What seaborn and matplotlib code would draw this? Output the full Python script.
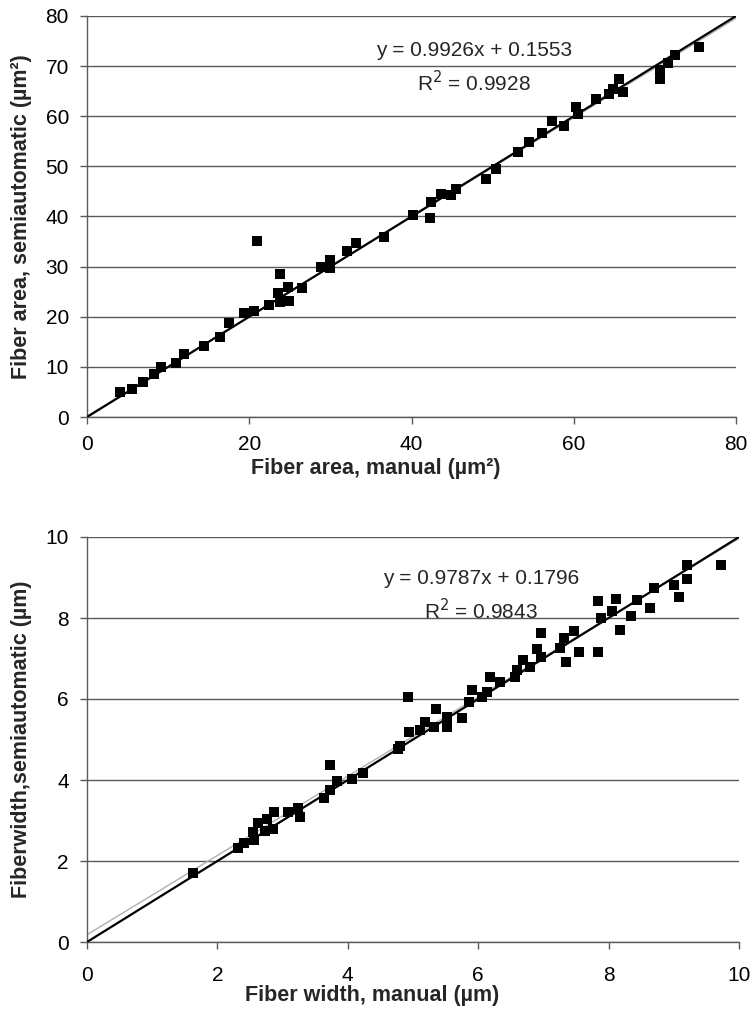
import numpy as np
import matplotlib
matplotlib.use("Agg")
import matplotlib.pyplot as plt
import seaborn as sns

# Datos panel superior: area de fibra (um2)
area_manual = [4.1, 5.6, 6.9, 8.2, 9.1, 11.0, 12.0, 14.4, 16.4, 17.5, 19.3, 20.6, 20.9,
               22.4, 23.5, 23.8, 23.8, 24.8, 24.9, 26.5, 28.9, 30.0, 30.0, 32.1, 33.2,
               36.6, 40.2, 42.3, 42.4, 43.6, 44.9, 45.5, 49.2, 50.4, 53.1, 54.5, 56.1,
               57.3, 58.8, 60.3, 60.5, 62.8, 64.3, 64.8, 65.6, 66.1, 70.6, 70.6, 71.6,
               72.5, 75.5]
area_semi = [5.0, 5.5, 6.9, 8.6, 9.9, 10.7, 12.6, 14.2, 16.0, 18.8, 20.7, 21.1, 35.1,
             22.3, 24.8, 28.6, 22.9, 26.0, 23.1, 25.7, 30.0, 31.3, 29.8, 33.2, 34.8,
             36.0, 40.3, 39.8, 42.8, 44.4, 44.2, 45.4, 47.5, 49.5, 52.9, 54.8, 56.6,
             59.0, 58.1, 61.8, 60.4, 63.4, 64.4, 65.4, 67.4, 64.8, 69.2, 67.4, 70.7,
             72.3, 73.9]
area_fit = (0.9926, 0.1553, 0.9928)

# Datos panel inferior: ancho de fibra (um)
ancho_manual = [1.62, 2.32, 2.41, 2.55, 2.56, 2.62, 2.73, 2.76, 2.86, 2.87, 3.09, 3.23,
                3.27, 3.64, 3.73, 3.73, 3.84, 4.07, 4.24, 4.77, 4.80, 4.93, 4.94, 5.11,
                5.18, 5.32, 5.35, 5.52, 5.52, 5.75, 5.86, 5.91, 6.06, 6.13, 6.18, 6.33,
                6.56, 6.59, 6.69, 6.80, 6.90, 6.96, 6.97, 7.25, 7.31, 7.35, 7.47, 7.54,
                7.83, 7.83, 7.89, 8.05, 8.12, 8.17, 8.34, 8.43, 8.63, 8.69, 9.01, 9.08,
                9.20, 9.21, 9.73]
ancho_semi = [1.71, 2.31, 2.44, 2.71, 2.52, 2.93, 2.75, 3.04, 2.79, 3.21, 3.20, 3.32,
              3.09, 3.56, 4.37, 3.75, 3.98, 4.02, 4.17, 4.76, 4.84, 6.05, 5.19, 5.23,
              5.44, 5.32, 5.75, 5.30, 5.56, 5.52, 5.93, 6.21, 6.04, 6.18, 6.54, 6.43,
              6.55, 6.72, 6.96, 6.78, 7.23, 7.04, 7.64, 7.25, 7.50, 6.91, 7.69, 7.17,
              7.17, 8.43, 7.99, 8.18, 8.46, 7.70, 8.05, 8.44, 8.24, 8.75, 8.81, 8.51,
              8.96, 9.31, 9.31]
ancho_fit = (0.9787, 0.1796, 0.9843)

sns.set_theme(style="white")
plt.rcParams['font.family'] = ['Liberation Sans', 'DejaVu Sans']

fig = plt.figure(figsize=(7.52, 10.13), dpi=100)
ax1 = fig.add_axes([87/752, 1-417/1013, 649/752, 401/1013])
ax2 = fig.add_axes([87/752, 1-942/1013, 652/752, 405/1013])

paneles = [
    (ax1, area_manual, area_semi, area_fit, 80, 10, 20,
     "Fiber area, manual (µm²)", "Fiber area, semiautomatic (µm²)",
     (0.445, -0.103), 8, (474, 50)),
    (ax2, ancho_manual, ancho_semi, ancho_fit, 10, 2, 2,
     "Fiber width, manual (µm)", "Fiberwidth,semiautomatic (µm)",
     (0.437, -0.107), 12, (481, 578)),
]

for ax, xs, ys, fit, lim, ystep, xstep, xlab, ylab, xlabpos, xpad, txtpos in paneles:
    m, b, r2 = fit
    ax.set_xlim(0, lim)
    ax.set_ylim(0, lim)
    ax.set_yticks(np.arange(0, lim + ystep / 2, ystep))
    ax.set_xticks(np.arange(0, lim + xstep / 2, xstep))
    ax.yaxis.grid(True, color="#5a5a5a", linewidth=1.0)
    ax.xaxis.grid(False)
    for s in ["top", "right"]:
        ax.spines[s].set_visible(False)
    for s in ["left", "bottom"]:
        ax.spines[s].set_color("#5a5a5a")
        ax.spines[s].set_linewidth(1.0)
    ax.tick_params(axis="both", direction="out", length=5, width=1, color="#5a5a5a",
                   labelsize=15, labelcolor="black", bottom=True, left=True)
    ax.tick_params(axis="x", pad=xpad)
    ax.tick_params(axis="y", pad=8)

    # recta de ajuste (gris) y recta identidad (negra)
    xx = np.array([0, lim])
    ax.plot(xx, m * xx + b, color="#b0b0b0", linewidth=1.0, zorder=2)
    ax.plot(xx, xx, color="black", linewidth=1.6, zorder=3)

    sns.scatterplot(x=xs, y=ys, ax=ax, marker="s", color="black", s=50,
                    linewidth=0, zorder=4, clip_on=False)

    ax.set_xlabel(xlab, fontsize=15.5, fontweight="bold")
    ax.set_ylabel(ylab, fontsize=15.5, fontweight="bold")
    ax.xaxis.set_label_coords(*xlabpos)
    ax.yaxis.set_label_coords(-0.084, 0.5)

    fig.text(txtpos[0] / 752, 1 - txtpos[1] / 1013, f"y = {m}x + {b}",
             ha="center", va="center", fontsize=15)
    fig.text(txtpos[0] / 752, 1 - (txtpos[1] + 33) / 1013, f"R$^2$ = {r2}",
             ha="center", va="center", fontsize=15)

fig.savefig("out.png", dpi=100)
